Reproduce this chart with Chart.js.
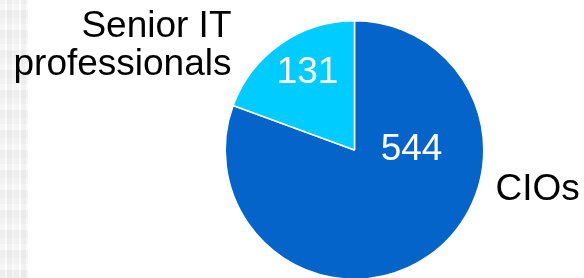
<!DOCTYPE html>
<html>
<head>
<meta charset="utf-8">
<script src="https://cdn.jsdelivr.net/npm/chart.js@4.4.1/dist/chart.umd.min.js"></script>
<style>
    html, body { margin: 0; padding: 0; background: #fff; overflow: hidden; }
    #wrap { position: relative; width: 584px; height: 278px; overflow: hidden; }
    #strip {
        position: absolute; left: 0; top: 0; width: 28px; height: 278px;
        background:
            repeating-linear-gradient(90deg, rgba(0,0,0,0.035) 0 5px, rgba(0,0,0,0) 5px 7px, rgba(0,0,0,0.05) 7px 12px, rgba(0,0,0,0.015) 12px 14px),
            repeating-linear-gradient(0deg, rgba(0,0,0,0.03) 0 8px, rgba(0,0,0,0) 8px 14px, rgba(0,0,0,0.02) 14px 20px);
    }
    #pieChart { position: absolute; left: 0; top: 0; }
</style>
</head>
<body>
<div id="wrap">
    <div id="strip"></div>
    <canvas id="pieChart" width="584" height="300"></canvas>
</div>
<script>
// datos del grafico
var categorias = ['CIOs', 'Senior IT professionals'];
var valores = [544, 131];
var colores = ['#0564ca', '#00ccff'];

document.addEventListener('DOMContentLoaded', function () {
    var ctx = document.getElementById('pieChart').getContext('2d');
    var fuente = '37px "Liberation Sans", Arial, sans-serif';

    // posicion de cada texto respecto al centro del pie (px)
    var valorOffset = [[57, 10], [-47, -67]];
    var nombreOffset = [
        { dx: 141, dy: 50, align: 'left', lineas: ['CIOs'] },
        { dx: -123, dy: -113, align: 'right', lineas: ['Senior IT', 'professionals'] }
    ];

    var etiquetas = {
        id: 'etiquetas',
        afterDraw: function (chart) {
            var c = chart.ctx;
            var meta = chart.getDatasetMeta(0);
            c.save();
            c.font = fuente;
            c.textBaseline = 'alphabetic';
            meta.data.forEach(function (arco, i) {
                var cx = arco.x, cy = arco.y;
                // valor dentro del sector
                c.fillStyle = '#ffffff';
                c.textAlign = 'center';
                c.fillText(String(chart.data.datasets[0].data[i]), cx + valorOffset[i][0], cy + valorOffset[i][1]);
                // nombre de la categoria
                var n = nombreOffset[i];
                c.fillStyle = '#000000';
                c.textAlign = n.align;
                n.lineas.forEach(function (linea, k) {
                    c.fillText(linea, cx + n.dx, cy + n.dy + k * 38);
                });
            });
            c.restore();
        }
    };

    new Chart(ctx, {
        type: 'pie',
        data: {
            labels: categorias,
            datasets: [{
                data: valores,
                backgroundColor: colores,
                borderColor: '#ffffff',
                borderWidth: 1.5
            }]
        },
        options: {
            responsive: false,
            animation: false,
            layout: { padding: { left: 224, right: 99, top: 20, bottom: 20 } },
            plugins: {
                legend: { display: false },
                tooltip: { enabled: false }
            }
        },
        plugins: [etiquetas]
    });
});
</script>
</body>
</html>
